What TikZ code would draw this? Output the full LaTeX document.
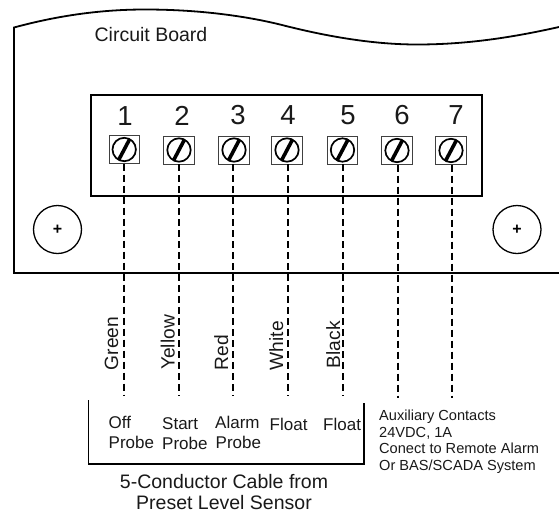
\documentclass[tikz,border=0pt]{standalone}
\usepackage{fontspec}
\setmainfont{Liberation Sans}
\begin{document}
\begin{tikzpicture}[x=1pt,y=-1pt,
  thickline/.style={line width=1.8pt,black},
  screwbox/.style={draw=black!75,line width=0.9pt,minimum width=30.5pt,minimum height=28pt,inner sep=0pt,outer sep=0pt,fill=white},
  wire/.style={line width=1.9pt,dash pattern=on 7pt off 4pt},
  num/.style={font=\fontsize{27.5}{27.5}\selectfont,inner sep=0pt,text=black!90},
  lbl/.style={font=\fontsize{17}{17}\selectfont,inner sep=0pt,anchor=base west,text=black!90},
  colr/.style={font=\fontsize{19.2}{19.2}\selectfont,inner sep=0pt,rotate=90,anchor=base west,text=black!90},
  aux/.style={font=\fontsize{14.6}{14.6}\selectfont,inner sep=0pt,anchor=base west,text=black!90},
  capt/.style={font=\fontsize{19.5}{19.5}\selectfont,inner sep=0pt,text=black!90},
  mount/.style={draw,circle,line width=1.3pt,minimum size=48pt,inner sep=0pt,font=\bfseries\fontsize{16}{16}\selectfont}]
\useasboundingbox (0,0) rectangle (559,512);
% board
\draw[thickline] (559,273) -- (14,273) -- (14,27.5)
  .. controls (60,15) and (103,9.5) .. (145,9.5)
  .. controls (203,9.5) and (250,17) .. (282,25)
  .. controls (325,36) and (372,44.5) .. (417,44.5)
  .. controls (465,44.5) and (510,38) .. (559,27);
\node[capt] (title) at (151,35) {Circuit Board};
\draw[thickline] (91,95) rectangle (482,196);
% numbers
\node[num] (n1) at (125,116) {1};
\node[num] (n2) at (182,116) {2};
\node[num] (n3) at (238,115.5) {3};
\node[num] (n4) at (288,115.5) {4};
\node[num] (n5) at (348,115.5) {5};
\node[num] (n6) at (402,115.5) {6};
\node[num] (n7) at (456,115.5) {7};
% screws
\foreach \i/\x/\y in {1/124.2/149.5,2/179/150,3/234/150,4/287/150,5/342.5/150,6/397/150.5,7/451/150.5}{
  \node[screwbox] (s\i) at (\x,\y) {};
  \draw[line width=1.7pt] (\x,\y) circle (11.7pt);
  \draw[line width=3.6pt] ([shift={(-5.6,10.6)}]\x,\y) -- ([shift={(5.6,-10.6)}]\x,\y);
}
% wire ends
\coordinate (e1) at (124,396);
\coordinate (e2) at (179,396);
\coordinate (e3) at (233,396);
\coordinate (e4) at (288,396);
\coordinate (e5) at (343,396);
\coordinate (e6) at (398,398);
\coordinate (e7) at (452,398);
\foreach \i in {1,...,7}{
  \draw[wire] (s\i.south -| e\i) -- (e\i);
}
% mounting holes
\node[mount] (h1) at (57.5,229.5) {+};
\node[mount] (h2) at (517,229.5) {+};
% colour labels
\node[colr] (c1) at (118,370.5) {Green};
\node[colr] (c2) at (174.5,370) {Yellow};
\node[colr] (c3) at (228,370.5) {Red};
\node[colr] (c4) at (283,370.5) {White};
\node[colr] (c5) at (340,368.5) {Black};
% bracket
\draw[thickline] (88.5,400) -- (88.5,464) -- (364,464) -- (364,403);
% function labels
\node[lbl] (a1) at (108.5,428.5) {Off};
\node[lbl] (b1) at (108.5,448) {Probe};
\node[lbl] (a2) at (162,429) {Start};
\node[lbl] (b2) at (162,449) {Probe};
\node[lbl] (a3) at (215,428) {Alarm};
\node[lbl] (b3) at (215.5,448) {Probe};
\node[lbl] (a4) at (269.5,430) {Float};
\node[lbl] (a5) at (323,430) {Float};
% caption
\node[capt,anchor=base] (cap1) at (224,488) {5-Conductor Cable from};
\node[capt,anchor=base] (cap2) at (224,509) {Preset Level Sensor};
% aux
\node[aux] (x1) at (379,420) {Auxiliary Contacts};
\node[aux] (x2) at (379,437) {24VDC, 1A};
\node[aux] (x3) at (379,453) {Conect to Remote Alarm};
\node[aux] (x4) at (379,470) {Or BAS/SCADA System};
\end{tikzpicture}
\end{document}
